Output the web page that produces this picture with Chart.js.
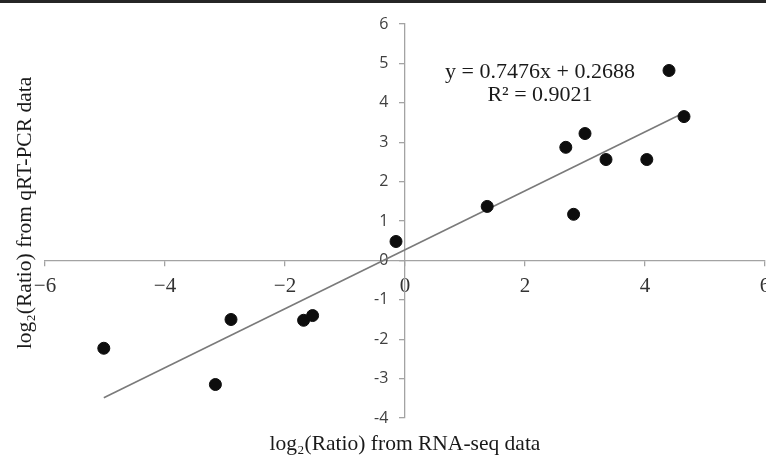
<!DOCTYPE html>
<html>
<head>
<meta charset="utf-8">
<script src="https://cdn.jsdelivr.net/npm/chart.js@4.4.1/dist/chart.umd.min.js"></script>
<style>
  html, body { margin: 0; padding: 0; background: #fff; }
  /* the canvas is a little wider than the frame so the last x label gets cut, as in the figure */
  #wrap { position: relative; width: 766px; height: 457px; overflow: hidden; }
  #topBar { position: absolute; left: 0; top: 0; width: 766px; height: 3px; background: #262626; }
</style>
</head>
<body>
<div id="wrap">
  <canvas id="qpcrChart" width="772" height="457"></canvas>
  <div id="topBar"></div>
</div>
<script>
// log2 ratios
const rnaSeq = [-5.02, -3.16, -2.90, -1.69, -1.54, -0.15, 1.37, 2.68, 2.81, 3.00, 3.35, 4.03, 4.40, 4.65];
const qrtPcr = [-2.23, -3.15, -1.50, -1.52, -1.40, 0.48, 1.37, 2.87, 1.17, 3.22, 2.56, 2.56, 4.82, 3.65];

// linear trendline as printed on the chart
const slope = 0.7476;
const intercept = 0.2688;
const rSquared = '0.9021';

const xTicks = [-6, -4, -2, 0, 2, 4, 6];
const yTicks = [-4, -3, -2, -1, 0, 1, 2, 3, 4, 5, 6];

const xTitle = 'log\u2082(Ratio) from RNA-seq data';
const yTitle = 'log\u2082(Ratio) from qRT-PCR data';

const points = rnaSeq.map((x, i) => ({ x: x, y: qrtPcr[i] }));
const xMin = Math.min(...rnaSeq);
const xMax = Math.max(...rnaSeq);
const trend = [
    { x: xMin, y: slope * xMin + intercept },
    { x: xMax, y: slope * xMax + intercept }
];

const serif = '"Liberation Serif", "Times New Roman", serif';
const axisGray = '#a3a3a3';

function noEdgePadding(scale) {
    scale.paddingLeft = 0;
    scale.paddingRight = 0;
    scale.paddingTop = 0;
    scale.paddingBottom = 0;
}

const equationLabel = {
    id: 'equationLabel',
    afterDraw(chart) {
        const { ctx, scales } = chart;
        const cx = scales.x.getPixelForValue(2.25);
        ctx.save();
        ctx.font = '22px ' + serif;
        ctx.fillStyle = '#1a1a1a';
        ctx.textAlign = 'center';
        ctx.textBaseline = 'middle';
        ctx.fillText('y = ' + slope + 'x + ' + intercept, cx, scales.y.getPixelForValue(4.78));
        ctx.fillText('R\u00b2 = ' + rSquared, cx, scales.y.getPixelForValue(4.2));
        ctx.restore();
    }
};

const ctx = document.getElementById('qpcrChart').getContext('2d');
new Chart(ctx, {
    type: 'scatter',
    data: {
        datasets: [
            {
                label: 'genes',
                data: points,
                backgroundColor: '#0d0d0d',
                borderColor: '#0d0d0d',
                pointRadius: 6,
                pointHoverRadius: 6
            },
            {
                type: 'line',
                label: 'trend',
                data: trend,
                borderColor: '#7a7a7a',
                borderWidth: 1.6,
                pointRadius: 0,
                fill: false
            }
        ]
    },
    options: {
        responsive: false,
        animation: false,
        layout: { padding: { left: 0, right: 2.5, top: 24, bottom: 0 } },
        plugins: {
            legend: { display: false },
            tooltip: { enabled: false }
        },
        scales: {
            x: {
                type: 'linear',
                min: -6,
                max: 6,
                position: { y: 0 },
                afterBuildTicks: (scale) => { scale.ticks = xTicks.map(v => ({ value: v })); },
                afterFit: noEdgePadding,
                ticks: {
                    callback: (v) => String(v).replace('-', '\u2212'),
                    font: { family: serif, size: 21 },
                    color: '#333',
                    padding: 8,
                    maxRotation: 0,
                    autoSkip: false
                },
                grid: { drawOnChartArea: false, drawTicks: true, tickLength: 5, color: axisGray, lineWidth: 1.3 },
                border: { color: axisGray, width: 1.3 }
            },
            y: {
                type: 'linear',
                min: -4,
                max: 6,
                position: { x: 0 },
                afterBuildTicks: (scale) => { scale.ticks = yTicks.map(v => ({ value: v })); },
                afterFit: noEdgePadding,
                ticks: {
                    // labels sit flush on a centred axis, so pad them with spaces
                    callback: (v) => String(v) + '    ',
                    font: { family: '"Open Sans", sans-serif', size: 16 },
                    color: '#404040',
                    autoSkip: false
                },
                grid: { drawOnChartArea: false, drawTicks: true, tickLength: 5, color: axisGray, lineWidth: 1.3 },
                border: { color: axisGray, width: 1.3 }
            },
            xTitle: {
                type: 'linear',
                position: 'bottom',
                min: -6,
                max: 6,
                afterFit: noEdgePadding,
                ticks: { display: false },
                grid: { display: false, drawTicks: false },
                border: { display: false },
                title: {
                    display: true,
                    text: xTitle,
                    font: { family: serif, size: 21.5 },
                    color: '#1a1a1a',
                    padding: { top: 13.2, bottom: 0 }
                }
            },
            yTitle: {
                type: 'linear',
                position: 'left',
                min: -4,
                max: 6,
                afterFit: noEdgePadding,
                ticks: { display: false },
                grid: { display: false, drawTicks: false },
                border: { display: false },
                title: {
                    display: true,
                    text: '   ' + yTitle,
                    font: { family: serif, size: 21.5 },
                    color: '#1a1a1a',
                    padding: { top: 12, bottom: 7.2 }
                }
            }
        }
    },
    plugins: [equationLabel]
});
</script>
</body>
</html>
